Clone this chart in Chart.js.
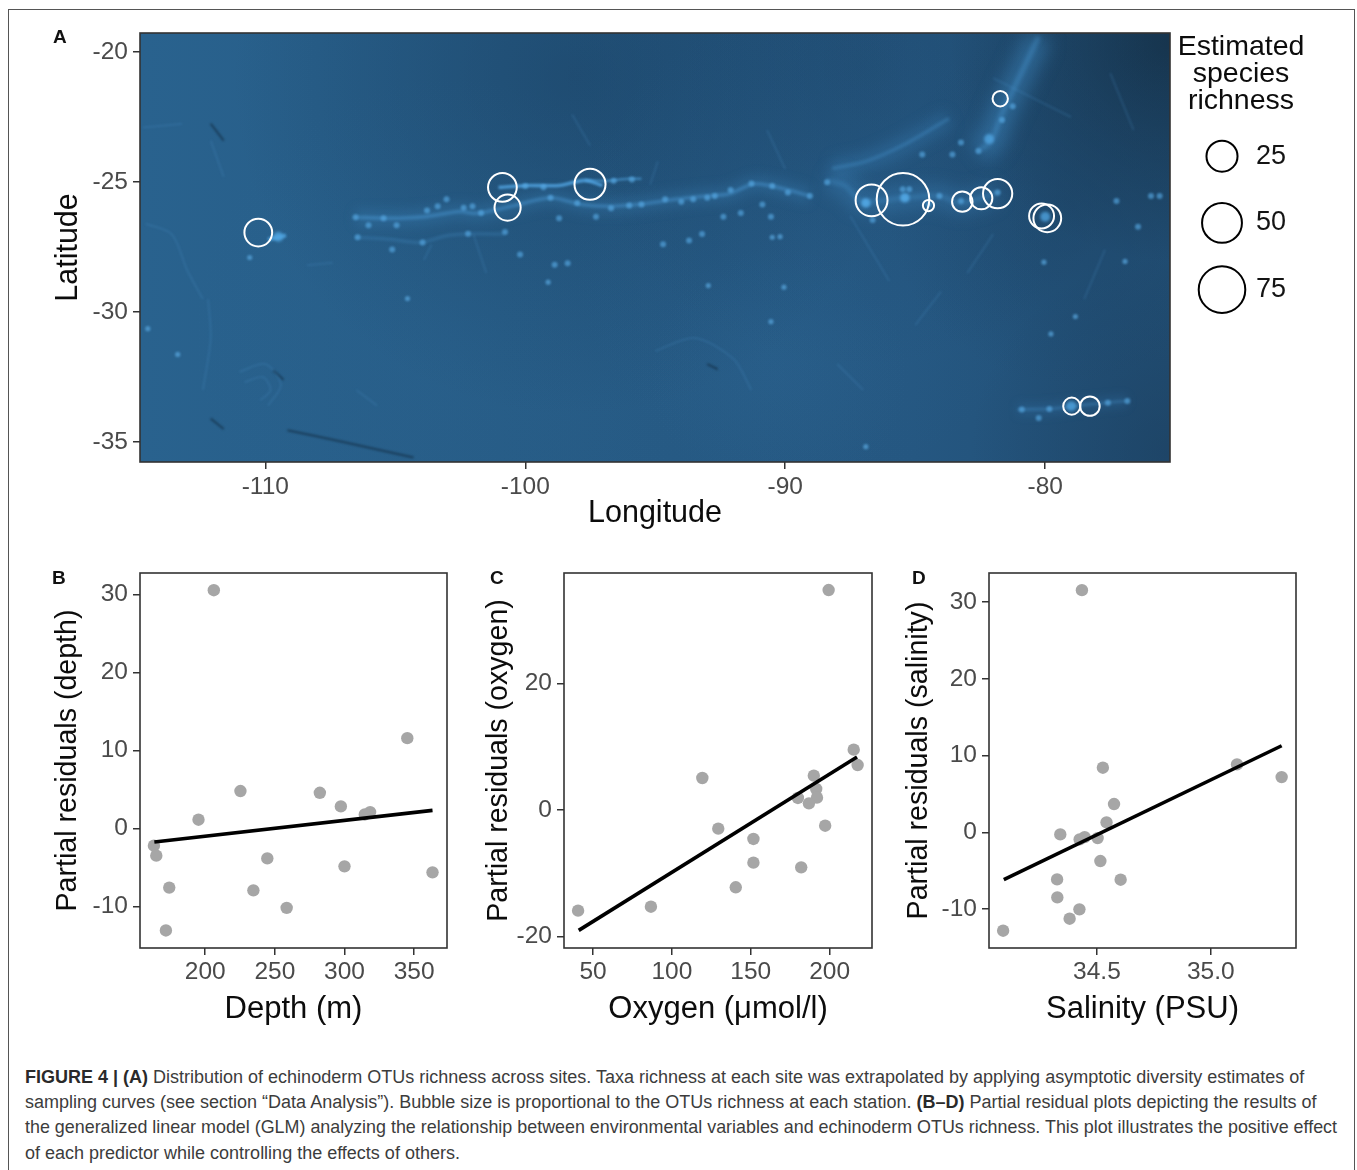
<!DOCTYPE html>
<html>
<head>
<meta charset="utf-8">
<script src="https://cdn.jsdelivr.net/npm/chart.js@4/dist/chart.umd.min.js"></script>
<style>
html, body { margin: 0; padding: 0; background: #fff; }
body { width: 1357px; height: 1170px; position: relative; overflow: hidden; font-family: "Liberation Sans", Arial, sans-serif; }
canvas { position: absolute; }
#frame { position: absolute; left: 8px; top: 9px; width: 1347px; height: 1200px; border: 1px solid #555; box-sizing: border-box; }
.tag { position: absolute; font: bold 19px "Liberation Sans", Arial, sans-serif; color: #111; line-height: 1; }
.cap { position: absolute; left: 25px; white-space: nowrap; font-size: 18px; line-height: 1; color: #3c3c3c; }
.cap b { color: #2a2a2a; }
</style>
</head>
<body>
<div id="frame"></div>
<canvas id="mapChart"></canvas>
<canvas id="legendChart"></canvas>
<canvas id="depthChart"></canvas>
<canvas id="oxygenChart"></canvas>
<canvas id="salinityChart"></canvas>
<div class="tag" style="left:53px;top:27px">A</div>
<div class="tag" style="left:52px;top:568px">B</div>
<div class="tag" style="left:490px;top:568px">C</div>
<div class="tag" style="left:912px;top:568px">D</div>
<div class="cap" style="top:1068px"><b>FIGURE 4 | (A)</b> Distribution of echinoderm OTUs richness across sites. Taxa richness at each site was extrapolated by applying asymptotic diversity estimates of</div>
<div class="cap" style="top:1093px">sampling curves (see section “Data Analysis”). Bubble size is proportional to the OTUs richness at each station. <b>(B–D)</b> Partial residual plots depicting the results of</div>
<div class="cap" style="top:1119px;font-size:17.9px">the generalized linear model (GLM) analyzing the relationship between environmental variables and echinoderm OTUs richness. This plot illustrates the positive effect</div>
<div class="cap" style="top:1144px">of each predictor while controlling the effects of others.</div>
<script>
// Panel A, sites
const siteLon      = [-110.27, -100.88, -100.68, -97.51, -86.68, -85.47, -84.49, -83.19, -82.46, -81.83, -80.14, -79.92, -81.73, -78.98, -78.28];
const siteLat      = [-26.94, -25.2, -25.98, -25.08, -25.7, -25.66, -25.9, -25.75, -25.62, -25.44, -26.3, -26.39, -21.79, -33.62, -33.62];
const siteRichness = [18, 20, 15, 25, 27, 102, 2, 7, 9, 21, 13, 18, 3, 4, 6];
const legendRichness = [25, 50, 75];

const mapLonTicks = [-110, -100, -90, -80];
const mapLatTicks = [-20, -25, -30, -35];

// Panel A, seafloor features as lon/lat
const ridgeNorth = [[-101.03,-25.2],[-99.87,-25.13],[-98.7,-25.13],[-97.7,-24.93],[-97.03,-25.13]];
const ridgeNorth2 = [[-97.7,-24.93],[-96.9,-24.95],[-96.03,-24.87],[-95.53,-24.87]];
const ridgeSouth = [[-106.53,-26.35],[-105.2,-26.39],[-103.87,-26.33],[-102.53,-26.13],[-101.87,-26.2],[-100.53,-25.93],[-99.03,-25.6],[-97.9,-25.85],[-96.87,-25.93],[-95.7,-25.86],[-94.2,-25.66],[-93.04,-25.53],[-92.2,-25.46],[-91.2,-25.07],[-90.3,-25.2],[-89.05,-25.53]];
const ridgeLower = [[-106.53,-27.12],[-105.2,-27.2],[-104.03,-27.32],[-103.03,-27.06],[-102.03,-26.99],[-100.8,-27]];
const ridgeEast = [[-88.4,-24.93],[-87.7,-25.13],[-87.06,-25.73],[-85.4,-25.6],[-84.07,-25.53],[-83.24,-25.8],[-81.83,-25.4]];
const ridgeEaster = [[-109.9,-27.2],[-109.5,-27.12],[-109.2,-27.05]];
const ridgeFernandez = [[-81.08,-33.75],[-79.75,-33.72],[-78.95,-33.62],[-77.67,-33.49],[-76.84,-33.42]];
const ridgeNazca = [[-88.2,-24.47],[-86.9,-24.2],[-85.4,-23.54],[-83.7,-22.55]];
const ridgeNazca2 = [[-82.57,-23.8],[-82.08,-23.41],[-81.66,-22.35],[-80.9,-20.76],[-80.25,-19.4]];
const ridgeBeads = [[-106.53,-26.35],[-106.03,-26.66],[-105.45,-26.39],[-104.95,-26.66],[-106.45,-27.12],[-105.12,-27.59],[-103.95,-27.32],[-103.78,-26.09],[-103.37,-25.93],[-103.03,-25.66],[-102.37,-25.99],[-102.03,-25.93],[-101.7,-26.19],[-100.78,-26.92],[-102.2,-26.99],[-100.2,-27.78],[-98.87,-28.18],[-98.37,-28.12],[-99.03,-25.6],[-97.28,-26.33],[-98.7,-26.39],[-96.7,-26],[-95.53,-25.86],[-94.62,-25.66],[-94.7,-27.39],[-93.54,-25.66],[-92.71,-25.53],[-91.71,-26.19],[-90.55,-26.33],[-92.38,-26.33],[-93.2,-27],[-93.7,-27.25],[-90.88,-25.86],[-89.05,-25.53],[-88.39,-25],[-86.9,-25.8],[-86.64,-26.46],[-85.48,-25.27],[-85.4,-25.6],[-85.23,-25.27],[-84.48,-25.86],[-84.07,-25.53],[-83.24,-25.73],[-81.83,-25.4],[-83.57,-23.94],[-84.73,-23.94],[-83.24,-23.47],[-82.57,-23.8],[-81.66,-22.61],[-81.25,-22.08],[-77.26,-25.73],[-76.43,-26.72],[-75.6,-25.53],[-75.93,-25.53],[-80.9,-33.75],[-80.25,-34.08],[-79.84,-33.73],[-77.59,-33.49],[-76.84,-33.42],[-92.1,-25.3],[-91.3,-25.05],[-90.5,-25.15],[-89.9,-25.4],[-93,-25.6],[-94,-25.75],[-96,-25.9],[-98,-25.8],[-96.6,-24.95],[-95.9,-24.9],[-100,-25.15],[-99.3,-25.2]];
const bigBeads = [[-80,-26.33],[-82.16,-23.34],[-79,-33.62],[-85.4,-25.6],[-86.9,-25.8],[-109.5,-27.1]];
const seamounts = [[-104.53,-29.48],[-99.12,-28.85],[-114.52,-30.64],[-113.37,-31.63],[-92.96,-28.98],[-90.05,-29.04],[-80.05,-28.08],[-90.55,-30.37],[-78.84,-30.17],[-79.78,-30.84],[-76.93,-28.05],[-86.9,-35.18],[-90.5,-27.12],[-90.2,-27.1],[-110.6,-27.9]];
const darkStreaks = [
  [[-112.1,-22.75],[-111.6,-23.4]],
  [[-109.7,-32.25],[-109.3,-32.6]],
  [[-109.15,-34.55],[-107,-35],[-104.3,-35.6]],
  [[-112.1,-34.1],[-111.6,-34.5]],
  [[-93,-32],[-92.6,-32.2]]
];
const paleStreaks = [
  [[-114.7,-22.9],[-113.2,-22.75]],
  [[-114.6,-26.6],[-113.6,-27.0],[-113,-28.4],[-112.4,-29.5]],
  [[-112.1,-23.4],[-111.6,-24.8]],
  [[-112.2,-29.5],[-112.1,-31],[-112.4,-33]],
  [[-108.4,-28.2],[-107.4,-28.1]],
  [[-103.6,-27.4],[-103.9,-28]],
  [[-102,-27],[-101.5,-28.5]],
  [[-98.2,-22.4],[-97.5,-23.6]],
  [[-95.2,-25.1],[-94.9,-24.2]],
  [[-87.5,-26.3],[-86,-28.8]],
  [[-84,-29.2],[-85,-30.5]],
  [[-90,-24.5],[-90.7,-23]],
  [[-82,-27],[-83,-28.5]],
  [[-77.7,-27.6],[-78.5,-29.5]],
  [[-106.5,-33],[-105.7,-33.6]],
  [[-111,-32.3],[-110,-32],[-109.4,-32.8],[-109.9,-33.6]],
  [[-110.8,-32.7],[-110.1,-32.5],[-109.8,-33],[-110.2,-33.4]],
  [[-88,-32],[-87,-33]],
  [[-95,-31.5],[-93.5,-31],[-92,-31.8],[-91.3,-33]],
  [[-82,-21],[-79,-22.5]],
  [[-77.5,-20.8],[-76.6,-23]]
];

// Panel B
const depthTicksX = [200, 250, 300, 350];
const depthTicksY = [30, 20, 10, 0, -10];
const depthX = [206.2, 345.1, 225.3, 282.3, 297.4, 195.2, 318.4, 314.6, 163.2, 164.9, 174.2, 171.8, 244.6, 234.6, 258.5, 300, 363.2];
const depthY = [30.56, 11.58, 4.79, 4.57, 2.82, 1.11, 2.09, 1.79, -2.22, -3.5, -7.6, -13.1, -3.85, -7.95, -10.2, -4.87, -5.64];
const depthFitX = [163.5, 363.2];
const depthFitY = [-1.75, 2.31];

// Panel C
const oxygenTicksX = [50, 100, 150, 200];
const oxygenTicksY = [20, 0, -20];
const oxygenX = [199.4, 215.3, 217.8, 119.3, 190, 191.5, 179.9, 192, 186.9, 129.4, 197.2, 151.7, 151.7, 182, 140.5, 86.7, 40.5];
const oxygenY = [34.77, 9.54, 7.11, 5.06, 5.43, 3.32, 1.9, 1.95, 1.05, -2.95, -2.48, -4.58, -8.32, -9.06, -12.22, -15.28, -15.91];
const oxygenFitX = [40.9, 217.4];
const oxygenFitY = [-19.02, 8.38];

// Panel D
const salinityTicksX = [34.5, 35.0];
const salinityTicksY = [30, 20, 10, 0, -10];
const salinityX = [34.434, 35.115, 35.311, 34.526, 34.575, 34.542, 34.339, 34.424, 34.446, 34.503, 34.515, 34.325, 34.604, 34.326, 34.423, 34.38, 34.088];
const salinityY = [31.54, 8.85, 7.2, 8.42, 3.69, 1.3, -0.26, -0.91, -0.61, -0.74, -3.73, -6.12, -6.16, -8.46, -10.02, -11.24, -12.8];
const salinityFitX = [34.091, 35.311];
const salinityFitY = [-6.16, 11.28];

const FONT = '"Liberation Sans", Arial, sans-serif';
const TICK_COLOR = '#4a4a4a';
const BOX_COLOR = '#333';

// area-style size scale
function bubbleRadius(richness) {
    return 5.6 + 20.7 * Math.sqrt((richness - 2) / 100);
}

function pairs(list) {
    return list.map(p => ({ x: p[0], y: p[1] }));
}

function zip(xs, ys) {
    return xs.map((x, i) => ({ x: x, y: ys[i] }));
}

// box round the plot area
const boxPlugin = {
    id: 'plotBox',
    afterDatasetsDraw(chart) {
        const a = chart.chartArea;
        const ctx = chart.ctx;
        ctx.save();
        ctx.strokeStyle = BOX_COLOR;
        ctx.lineWidth = 1.6;
        ctx.strokeRect(a.left, a.top, a.width, a.height);
        ctx.restore();
    }
};

// blur per dataset, for the soft look of the bathymetry
const blurPlugin = {
    id: 'datasetBlur',
    beforeDatasetDraw(chart, args) {
        const b = chart.data.datasets[args.index].blur;
        if (b) chart.ctx.filter = `blur(${b}px)`;
    },
    afterDatasetDraw(chart) {
        chart.ctx.filter = 'none';
    }
};

// sea colour under the features
const seaPlugin = {
    id: 'sea',
    beforeDatasetsDraw(chart) {
        const a = chart.chartArea;
        const ctx = chart.ctx;
        const g = ctx.createLinearGradient(a.left, 0, a.right, 0);
        g.addColorStop(0, '#29628e');
        g.addColorStop(0.35, '#275c86');
        g.addColorStop(0.75, '#255781');
        g.addColorStop(1, '#214e74');
        ctx.save();
        ctx.fillStyle = g;
        ctx.fillRect(a.left, a.top, a.width, a.height);
        const blob = (fx, fy, r, color) => {
            const x = a.left + fx * a.width;
            const y = a.top + fy * a.height;
            const rg = ctx.createRadialGradient(x, y, 0, x, y, r);
            rg.addColorStop(0, color);
            rg.addColorStop(1, color.replace(/[\d.]+\)$/, '0)'));
            ctx.fillStyle = rg;
            ctx.fillRect(a.left, a.top, a.width, a.height);
        };
        blob(0.42, 0.1, 340, 'rgba(24,62,96,0.5)');
        blob(0.7, 0.08, 300, 'rgba(26,64,98,0.35)');
        blob(1.0, 0.02, 220, 'rgba(18,42,62,0.7)');
        blob(1.0, 0.98, 200, 'rgba(26,58,88,0.45)');
        blob(0.9, 0.4, 180, 'rgba(26,62,94,0.4)');
        blob(0.3, 0.7, 260, 'rgba(46,108,156,0.12)');
        blob(0.62, 0.8, 130, 'rgba(50,112,160,0.15)');
        blob(0.65, 0.5, 240, 'rgba(48,110,160,0.14)');
        ctx.restore();
    }
};

function featureLine(points, color, width, blur) {
    return {
        type: 'line',
        data: pairs(points),
        borderColor: color,
        borderWidth: width,
        pointRadius: 0,
        tension: 0.3,
        fill: false,
        blur: blur
    };
}

function featureDots(points, color, radius, blur) {
    return {
        type: 'scatter',
        data: pairs(points),
        backgroundColor: color,
        pointRadius: radius,
        pointBorderWidth: 0,
        blur: blur
    };
}

function axisTitle(text, size, padding) {
    return { display: true, text: text, color: '#0c0c0c', padding: padding, font: { family: FONT, size: size } };
}

function scaleOptions(ticks, min, max, title, fit, format, labelPad) {
    return {
        type: 'linear',
        min: min,
        max: max,
        afterBuildTicks: axis => { axis.ticks = ticks.map(v => ({ value: v })); },
        afterFit: fit,
        border: { display: false },
        grid: { drawOnChartArea: false, drawTicks: true, tickLength: 7, color: BOX_COLOR, lineWidth: 1.5 },
        ticks: {
            autoSkip: false,
            maxRotation: 0,
            padding: labelPad,
            color: TICK_COLOR,
            font: { family: FONT, size: 24.5 },
            callback: format || (v => String(v))
        },
        title: title
    };
}

// canvas box and plot area are page pixels
function placeChart(id, box, plot) {
    const canvas = document.getElementById(id);
    canvas.width = box.right - box.left;
    canvas.height = box.bottom - box.top;
    canvas.style.left = box.left + 'px';
    canvas.style.top = box.top + 'px';
    return {
        canvas: canvas,
        padding: { top: plot.top - box.top, right: box.right - plot.right, left: 0, bottom: 0 },
        fitY: axis => { axis.width = plot.left - box.left; },
        fitX: axis => { axis.height = box.bottom - plot.bottom; }
    };
}

const baseOptions = {
    responsive: false,
    animation: false,
    events: [],
    plugins: { legend: { display: false }, tooltip: { enabled: false }, title: { display: false } }
};

// Panel A
const mapPlace = placeChart('mapChart',
    { left: 40, top: 10, right: 1200, bottom: 532 },
    { left: 140, top: 33, right: 1170, bottom: 462 });

new Chart(mapPlace.canvas, {
    type: 'bubble',
    data: {
        datasets: [
            {
                data: siteLon.map((lon, i) => ({ x: lon, y: siteLat[i], r: bubbleRadius(siteRichness[i]) })),
                borderColor: '#ffffff',
                backgroundColor: 'rgba(255,255,255,0)',
                borderWidth: 2
            },
            featureDots(bigBeads, 'rgba(82,168,230,0.75)', 5, 1.8),
            featureDots(ridgeBeads, 'rgba(88,172,232,0.62)', 3, 1.2),
            featureDots(seamounts, 'rgba(88,166,222,0.7)', 2.6, 1),
            featureLine(ridgeNorth, 'rgba(84,170,232,0.75)', 3.6, 1.2),
            featureLine(ridgeNorth2, 'rgba(80,165,226,0.55)', 2.6, 1.2),
            featureLine(ridgeSouth, 'rgba(78,162,224,0.42)', 3.6, 1.6),
            featureLine(ridgeLower, 'rgba(76,156,216,0.25)', 3, 1.6),
            featureLine(ridgeEast, 'rgba(76,158,220,0.3)', 4, 2),
            featureLine(ridgeEaster, 'rgba(80,165,225,0.75)', 4, 1.2),
            featureLine(ridgeFernandez, 'rgba(84,170,232,0.28)', 2.6, 1.4),
            featureLine(ridgeNazca, 'rgba(76,156,216,0.3)', 3.5, 1.8),
            featureLine(ridgeNazca2, 'rgba(76,156,216,0.4)', 4.5, 2),
            featureLine(ridgeSouth, 'rgba(70,150,212,0.2)', 16, 6),
            featureLine(ridgeEast, 'rgba(70,150,212,0.24)', 24, 8),
            featureLine(ridgeNazca, 'rgba(70,150,212,0.22)', 18, 7),
            featureLine(ridgeNazca2, 'rgba(66,146,206,0.42)', 26, 9),
            featureLine(ridgeFernandez, 'rgba(70,150,212,0.15)', 12, 5),
            ...paleStreaks.map(s => featureLine(s, 'rgba(80,150,205,0.2)', 2, 1)),
            ...darkStreaks.map(s => featureLine(s, 'rgba(14,34,52,0.55)', 2, 1.1))
        ]
    },
    options: {
        ...baseOptions,
        layout: { padding: mapPlace.padding, autoPadding: false },
        scales: {
            x: scaleOptions(mapLonTicks, -114.82, -75.2, axisTitle('Longitude', 30.5, { top: 0, bottom: 0 }), mapPlace.fitX, null, 4),
            y: scaleOptions(mapLatTicks, -35.77, -19.26, axisTitle('Latitude', 30.5, { top: 10.7, bottom: 0 }), mapPlace.fitY, null, 5)
        }
    },
    plugins: [seaPlugin, blurPlugin, boxPlugin]
});

// Legend of panel A
const legendPlace = placeChart('legendChart',
    { left: 1172, top: 33, right: 1310, bottom: 352 },
    { left: 1172, top: 33, right: 1252, bottom: 352 });

new Chart(legendPlace.canvas, {
    type: 'bubble',
    data: {
        datasets: [{
            data: legendRichness.map(s => ({ x: 0, y: s, r: bubbleRadius(s) })),
            borderColor: '#000000',
            backgroundColor: 'rgba(0,0,0,0)',
            borderWidth: 2,
            clip: false
        }]
    },
    options: {
        ...baseOptions,
        layout: { padding: 0, autoPadding: false },
        plugins: {
            legend: { display: false },
            tooltip: { enabled: false },
            title: {
                display: true,
                text: ['Estimated', 'species', 'richness'],
                color: '#0c0c0c',
                padding: 0,
                font: { family: FONT, size: 28.5, weight: 'normal', lineHeight: 0.96 }
            }
        },
        scales: {
            x: { type: 'linear', min: -50, max: 30, display: false },
            y: {
                type: 'linear',
                position: 'right',
                reverse: true,
                min: 9.6,
                max: 90.8,
                afterBuildTicks: axis => { axis.ticks = legendRichness.map(v => ({ value: v })); },
                afterFit: axis => { axis.width = 58; },
                border: { display: false },
                grid: { display: false, drawTicks: false },
                ticks: { padding: 4, color: '#141414', font: { family: FONT, size: 27 } }
            }
        }
    }
});

// Panels B-D
function residualPlot(cfg) {
    const place = placeChart(cfg.id, cfg.box, cfg.plot);
    new Chart(place.canvas, {
        type: 'scatter',
        data: {
            datasets: [
                {
                    data: zip(cfg.fitX, cfg.fitY),
                    showLine: true,
                    borderColor: '#000000',
                    borderWidth: 3.6,
                    pointRadius: 0
                },
                {
                    data: zip(cfg.xs, cfg.ys),
                    backgroundColor: '#a6a6a6',
                    pointRadius: 6.2,
                    pointBorderWidth: 0
                }
            ]
        },
        options: {
            ...baseOptions,
            layout: { padding: place.padding, autoPadding: false },
            scales: {
                x: scaleOptions(cfg.ticksX, cfg.rangeX[0], cfg.rangeX[1], axisTitle(cfg.titleX, 31, { top: 0, bottom: 12.4 }), place.fitX, cfg.formatX, 3),
                y: scaleOptions(cfg.ticksY, cfg.rangeY[0], cfg.rangeY[1], axisTitle(cfg.titleY, 28.6, { top: cfg.titleLeftPad, bottom: 0 }), place.fitY, null, 5)
            }
        },
        plugins: [boxPlugin]
    });
}

residualPlot({
    id: 'depthChart',
    box: { left: 40, top: 540, right: 480, bottom: 1040 },
    plot: { left: 140, top: 573, right: 447, bottom: 948 },
    xs: depthX, ys: depthY, fitX: depthFitX, fitY: depthFitY,
    ticksX: depthTicksX, ticksY: depthTicksY,
    rangeX: [153.2, 373.6], rangeY: [-15.35, 32.77],
    titleX: 'Depth (m)', titleY: 'Partial residuals (depth)', titleLeftPad: 11.4
});

residualPlot({
    id: 'oxygenChart',
    box: { left: 470, top: 540, right: 900, bottom: 1040 },
    plot: { left: 564, top: 573, right: 872, bottom: 948 },
    xs: oxygenX, ys: oxygenY, fitX: oxygenFitX, fitY: oxygenFitY,
    ticksX: oxygenTicksX, ticksY: oxygenTicksY,
    rangeX: [31.57, 226.9], rangeY: [-21.81, 37.46],
    titleX: 'Oxygen (\u03bcmol/l)', titleY: 'Partial residuals (oxygen)', titleLeftPad: 12
});

residualPlot({
    id: 'salinityChart',
    box: { left: 890, top: 540, right: 1330, bottom: 1040 },
    plot: { left: 989, top: 573, right: 1296, bottom: 948 },
    xs: salinityX, ys: salinityY, fitX: salinityFitX, fitY: salinityFitY,
    ticksX: salinityTicksX, ticksY: salinityTicksY,
    rangeX: [34.026, 35.374], rangeY: [-15.05, 33.77],
    titleX: 'Salinity (PSU)', titleY: 'Partial residuals (salinity)', titleLeftPad: 12,
    formatX: v => v.toFixed(1)
});
</script>
</body>
</html>
